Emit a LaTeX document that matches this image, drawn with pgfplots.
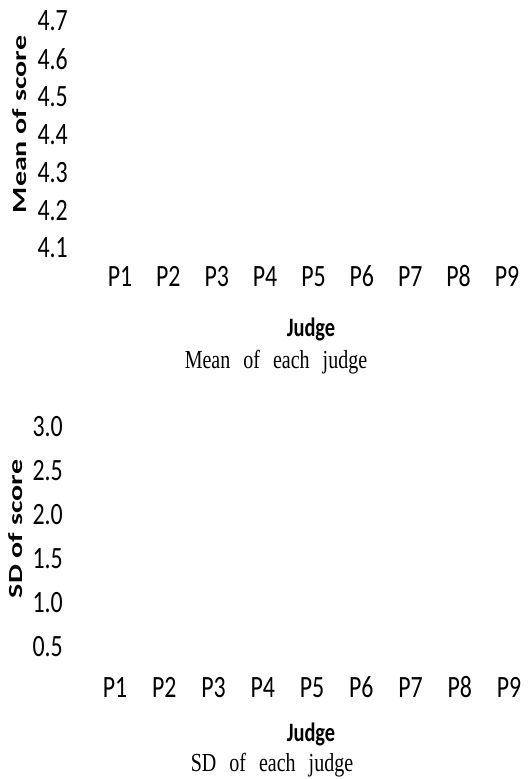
\documentclass[border=0pt]{standalone}
\usepackage{fontspec}
\setmainfont{Carlito}[FakeStretch=0.77]
\newfontfamily\ylabfont{Carlito Bold}[FakeStretch=1.5]
\newfontfamily\capfont{Liberation Serif}[FakeStretch=0.77, WordSpace=2.6]
\usepackage{pgfplots}
\pgfplotsset{compat=1.18}
\pgfplotsset{
  judgeaxis/.style={
    scale only axis,
    anchor=south west,
    xmin=1, xmax=9,
    xtick={1,2,3,4,5,6,7,8,9},
    xticklabels={P1,P2,P3,P4,P5,P6,P7,P8,P9},
    axis line style={draw=none},
    tick style={draw=none},
    major tick length=0pt,
    /pgf/number format/assume math mode=true,
    tick label style={font=\fontsize{31bp}{36bp}\selectfont, inner sep=0pt},
    yticklabel style={anchor=east, xshift=-52bp},
    xlabel={\textbf{Judge}},
    xlabel style={font=\fontsize{26.5bp}{30bp}\selectfont, at={(axis description cs:0.5,0)}, anchor=center, inner sep=0pt},
    ylabel style={font=\ylabfont\fontsize{20bp}{24bp}\selectfont, at={(axis description cs:0,0.5)}, anchor=center, inner sep=0pt},
  }
}
\begin{document}
\begin{tikzpicture}
\useasboundingbox (0,0) rectangle (528bp,779bp);
% Top chart: mean of each judge (no data drawn in the reference)
\begin{axis}[judgeaxis,
  at={(120bp,531bp)}, width=387bp, height=227bp,
  ymin=4.1, ymax=4.7,
  ytick={4.1,4.2,4.3,4.4,4.5,4.6,4.7},
  yticklabel style={/pgf/number format/.cd, fixed, fixed zerofill, precision=1},
  xticklabel style={anchor=base, yshift=-39bp},
  xlabel style={yshift=-81bp, xshift=-2.5bp},
  ylabel={Mean of score},
  ylabel style={xshift=10bp, yshift=100bp},
]
\end{axis}
\node[font=\capfont\fontsize{26bp}{30bp}\selectfont, anchor=center, inner sep=0pt] at (276bp,417bp) {Mean of each judge};
% Bottom chart: SD of each judge (no data drawn in the reference)
\begin{axis}[judgeaxis,
  at={(115bp,132bp)}, width=394bp, height=220bp,
  ymin=0.5, ymax=3.0,
  ytick={0.5,1.0,1.5,2.0,2.5,3.0},
  yticklabel style={/pgf/number format/.cd, fixed, fixed zerofill, precision=1},
  xticklabel style={anchor=base, yshift=-50bp},
  xlabel style={yshift=-87bp, xshift=-1bp},
  ylabel={SD of score},
  ylabel style={xshift=8bp, yshift=99bp},
]
\end{axis}
\node[font=\capfont\fontsize{26bp}{30bp}\selectfont, anchor=center, inner sep=0pt] at (272bp,14bp) {SD of each judge};
\end{tikzpicture}
\end{document}
